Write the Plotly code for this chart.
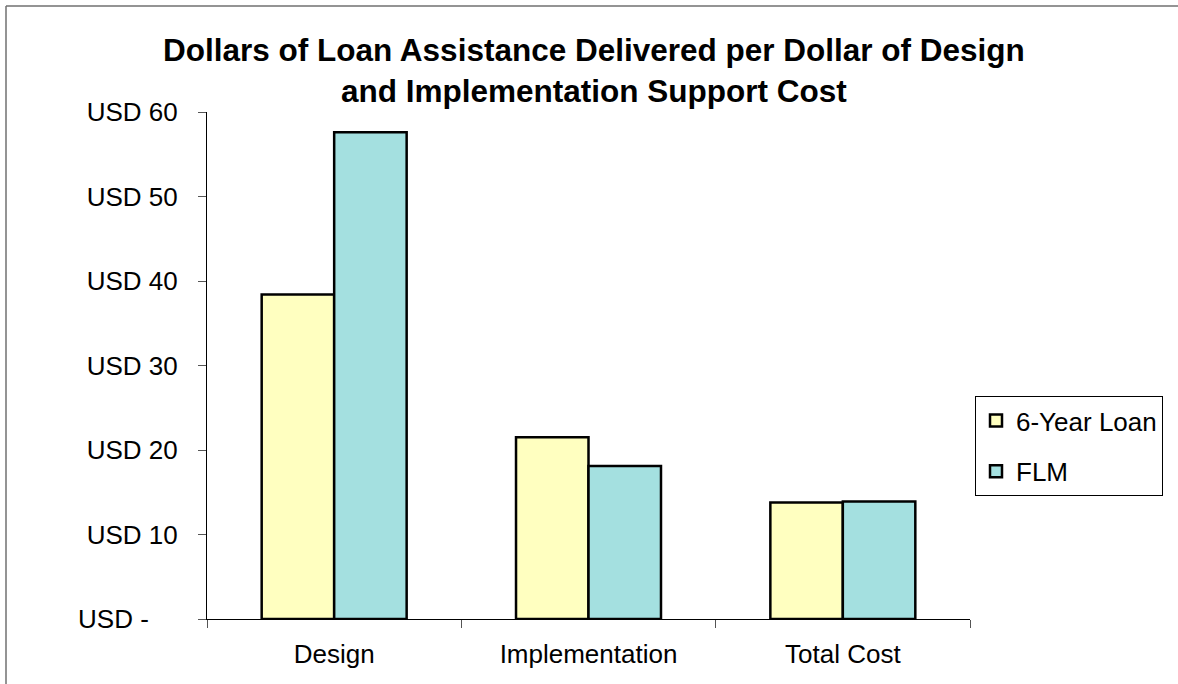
import plotly.graph_objects as go

categories = ["Design", "Implementation", "Total Cost"]
loan_6yr = [38.4, 21.5, 13.8]
flm = [57.6, 18.1, 13.9]
tick_vals = [0, 10, 20, 30, 40, 50, 60]
tick_text = ["USD -\u2007\u2007", "USD 10", "USD 20", "USD 30", "USD 40", "USD 50", "USD 60"]

FONT = "Arial, Liberation Sans, sans-serif"

fig = go.Figure()
fig.add_trace(go.Bar(x=categories, y=loan_6yr, name="6-Year Loan", legendgroup="a",
                     marker=dict(color="#FFFFC0", line=dict(color="black", width=2.5))))
fig.add_trace(go.Bar(x=categories, y=flm, name="FLM", legendgroup="b",
                     marker=dict(color="#A4E0E0", line=dict(color="black", width=2.5))))

W, H = 1178, 684
L, R, T, B = 207, 970, 112, 619
def px(x):
    return (x - L) / (R - L)
def py(y):
    return (B - y) / (B - T)

fig.update_layout(
    width=W, height=H,
    margin=dict(l=L, r=W - R, t=T, b=H - B, pad=0),
    paper_bgcolor="white", plot_bgcolor="white",
    font=dict(family=FONT, size=26, color="black"),
    barmode="group", bargap=0.43, bargroupgap=0,
    showlegend=True,
    legend=dict(x=px(975), y=py(396), xanchor="left", yanchor="top",
                bordercolor="black", borderwidth=1, bgcolor="white",
                font=dict(size=26), traceorder="grouped", tracegroupgap=14,
                itemwidth=30),
    xaxis=dict(showline=True, linecolor="black", linewidth=1,
               ticks="outside", tickson="boundaries", ticklen=8, tickcolor="#555555",
               showgrid=False, tickfont=dict(size=26), fixedrange=True,
               ticklabelstandoff=12),
    yaxis=dict(range=[0, 60], tickvals=tick_vals, ticktext=tick_text,
               showline=True, linecolor="black", linewidth=1,
               ticks="outside", ticklen=8, tickcolor="#555555",
               showgrid=False, zeroline=False, tickfont=dict(size=26),
               ticklabelstandoff=15, fixedrange=True),
    annotations=[
        dict(text="<b>Dollars of Loan Assistance Delivered per Dollar of Design</b>",
             x=px(594), y=py(50), xref="paper", yref="paper", showarrow=False,
             xanchor="center", yanchor="middle", font=dict(size=31.5, family=FONT)),
        dict(text="<b>and Implementation Support Cost</b>",
             x=px(594), y=py(91), xref="paper", yref="paper", showarrow=False,
             xanchor="center", yanchor="middle", font=dict(size=31.5, family=FONT)),
    ],
    shapes=[
        dict(type="line", xref="paper", yref="paper", x0=px(6), x1=px(1200), y0=py(6), y1=py(6),
             line=dict(color="#707070", width=1.5)),
        dict(type="line", xref="paper", yref="paper", x0=px(6), x1=px(6), y0=py(6), y1=py(700),
             line=dict(color="#707070", width=1.5)),
    ],
)

fig.write_html("out.html", config={"displayModeBar": False},
               post_script="document.body.style.margin='0';")
